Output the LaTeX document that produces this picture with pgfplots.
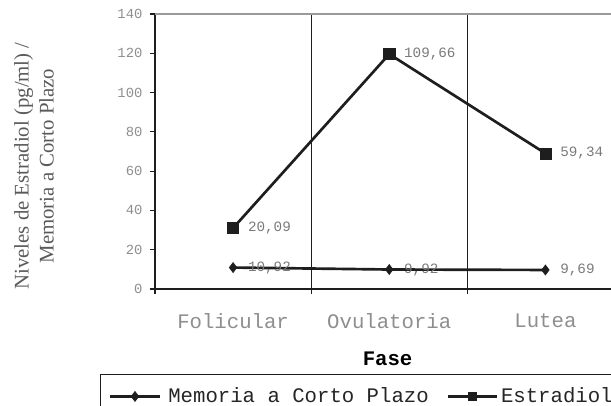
\documentclass[border=0pt]{standalone}
\usepackage{pgfplots}
\pgfplotsset{compat=1.18}
\usepackage{pgfplotstable}
\usepackage{fontspec}
\setmainfont{Liberation Serif}
\newfontfamily\mono{Liberation Mono}
\definecolor{tickgray}{HTML}{8E8E8E}
\definecolor{datgray}{HTML}{7A7A7A}
\definecolor{labgray}{HTML}{5A5A5A}
\definecolor{topgray}{HTML}{9A9A9A}
\definecolor{linecol}{HTML}{1E1E1E}

% plotted positions are stacked (Memoria + Estradiol); labels are the series values
\pgfplotstableread{
x y lab
0 10.92 {10,92}
1 9.92 {9,92}
2 9.69 {9,69}
}\memoria
\pgfplotstableread{
x y lab
0 31.01 {20,09}
1 119.58 {109,66}
2 69.03 {59,34}
}\estradiol

\begin{document}
\begin{tikzpicture}
\useasboundingbox (0,0) rectangle (458.25pt,304.5pt);
\begin{axis}[
  at={(116.25pt,87.75pt)}, anchor=south west,
  scale only axis, width=342pt, height=206.25pt,
  xmin=-0.5, xmax=2.42, ymin=0, ymax=140,
  axis x line=bottom, axis y line=left,
  axis line style={-, linecol, line width=1pt},
  xtick={-0.5,0.5,1.5}, xticklabels={},
  xmajorgrids, major x grid style={linecol, line width=0.9pt},
  extra x ticks={0,1,2},
  extra x tick labels={Folicular,Ovulatoria,Lutea},
  extra x tick style={major tick length=0pt, grid=none,
     xticklabel style={anchor=center, yshift=-24pt, inner sep=0pt,
       font=\mono\fontsize{15.5}{18}\selectfont, text=tickgray}},
  ytick={0,20,...,140},
  tick align=outside, major tick length=4pt,
  tick style={linecol, line width=0.9pt},
  /pgf/number format/assume math mode=true,
  yticklabel style={font=\mono\fontsize{10.4}{12}\selectfont, text=tickgray,
     inner sep=0pt, xshift=-5.25pt},
  xlabel={Fase},
  xlabel style={at={(axis description cs:0.51,0)}, anchor=center, yshift=-52.5pt,
     font=\mono\bfseries\fontsize{15.5}{18}\selectfont, text=black},
  legend columns=2,
  legend style={at={(axis description cs:-0.1206,-0.309)}, anchor=north west,
     draw=linecol, line width=1pt, inner xsep=6pt, inner ysep=10pt,
     font=\mono\fontsize{15.5}{18}\selectfont, text=black!85,
     nodes={inner sep=0pt},
     /tikz/every even column/.append style={column sep=13.2pt}},
  legend cell align=left,
  clip=false,
]
\draw[topgray, line width=1.6pt] (rel axis cs:0,1) -- (rel axis cs:1,1);
% Memoria labels drawn first so the line passes over them
\addplot[draw=none, forget plot, nodes near coords, point meta=explicit symbolic,
  nodes near coords style={anchor=west, xshift=11pt, inner sep=0pt,
    font=\mono\fontsize{10.7}{12}\selectfont, text=datgray}]
  table[x=x, y=y, meta=lab] {\memoria};
\addplot[linecol, line width=2pt, mark=diamond*, mark size=3.8pt,
  mark options={solid, line width=0.4pt},
  legend image code/.code={
    \draw[line width=2pt, mark repeat=2, mark phase=2]
      plot coordinates {(0pt,0pt) (18.75pt,0pt) (37.5pt,0pt)};
    \path (42.75pt,0pt);}]
  table[x=x, y=y] {\memoria};
\addlegendentry{Memoria a Corto Plazo}
\addplot[linecol, line width=2pt, mark=square*, mark size=4.2pt,
  mark options={solid, line width=0.4pt},
  nodes near coords, point meta=explicit symbolic,
  nodes near coords style={anchor=west, xshift=11pt, inner sep=0pt,
    font=\mono\fontsize{10.7}{12}\selectfont, text=datgray},
  legend image code/.code={
    \draw[line width=2pt, mark repeat=2, mark phase=2, mark size=3.2pt]
      plot coordinates {(0pt,0pt) (18.4pt,0pt) (36.75pt,0pt)};
    \path (39pt,0pt);}]
  table[x=x, y=y, meta=lab] {\estradiol};
\addlegendentry{Estradiol}
\end{axis}
\node[rotate=90, align=center,
  font=\fontsize{15.6}{18.75}\selectfont, text=labgray]
  at (25.5pt,180pt) {Niveles de Estradiol (pg/ml) /\\Memoria a Corto Plazo};
\end{tikzpicture}
\end{document}
